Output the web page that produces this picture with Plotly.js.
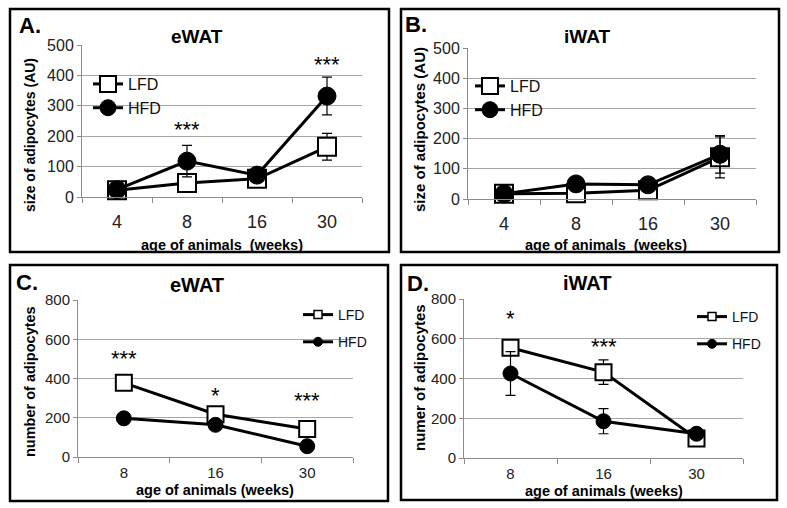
<!DOCTYPE html>
<html>
<head>
<meta charset="utf-8">
<script src="https://cdn.plot.ly/plotly-3.0.1.min.js"></script>
<style>
  html, body { margin: 0; padding: 0; background: #fff; }
  #chart { width: 787px; height: 508px; }
</style>
</head>
<body>
<div id="chart"></div>
<script>
// A / B: size of adipocytes (AU) by age
const AGES_SIZE = ['4', '8', '16', '30'];
const EWAT_SIZE_LFD = [22, 46, 60, 165];
const EWAT_SIZE_LFD_ERR = [4, 19, 8, 44];
const EWAT_SIZE_HFD = [24, 118, 72, 332];
const EWAT_SIZE_HFD_ERR = [4, 52, 10, 62];
const IWAT_SIZE_LFD = [17, 19, 29, 138];
const IWAT_SIZE_LFD_ERR = [3, 8, 8, 68];
const IWAT_SIZE_HFD = [17, 50, 47, 148];
const IWAT_SIZE_HFD_ERR = [3, 8, 8, 62];

// C / D: number of adipocytes by age
const AGES_NUMBER = ['8', '16', '30'];
const EWAT_NUM_LFD = [378, 218, 143];
const EWAT_NUM_LFD_ERR = [35, 20, 10];
const EWAT_NUM_HFD = [197, 164, 55];
const EWAT_NUM_HFD_ERR = [10, 15, 10];
const IWAT_NUM_LFD = [555, 432, 98];
const IWAT_NUM_LFD_ERR = [25, 62, 10];
const IWAT_NUM_HFD = [425, 185, 122];
const IWAT_NUM_HFD_ERR = [110, 63, 10];

// significance marks: [age, height, label]
const EWAT_SIZE_STARS = [['8', 222, '***'], ['30', 435, '***']];
const EWAT_NUM_STARS = [['8', 500, '***'], ['16', 313, '*'], ['30', 288, '***']];
const IWAT_NUM_STARS = [['8', 703, '*'], ['16', 560, '***']];

const W = 787;
const H = 508;
const FONT = 'Liberation Sans, Arial, sans-serif';
const GRID = '#a6a6a6';
const AXIS = '#8c8c8c';

const px = (x) => x / W;
const py = (y) => 1 - y / H;

function errBar(values) {
  return { type: 'data', array: values, visible: true, color: '#000', thickness: 1.2, width: 5 };
}

function series(ages, values, errors, name, axes, opts) {
  return {
    x: ages,
    y: values,
    name,
    type: 'scatter',
    mode: 'lines+markers',
    xaxis: axes[0],
    yaxis: axes[1],
    cliponaxis: false,
    showlegend: opts.showlegend,
    legend: opts.legend,
    legendgroup: opts.group,
    line: { color: '#000', width: 3 },
    marker: opts.marker,
    error_y: errBar(errors),
  };
}

function legendOnly(name, legend, group, marker) {
  return {
    x: [null], y: [null], name, type: 'scatter', mode: 'lines+markers',
    xaxis: 'x3', yaxis: 'y3', legend, legendgroup: group, hoverinfo: 'skip',
    line: { color: '#000', width: 3 }, marker,
  };
}

const LFD_BIG = { symbol: 'square', size: 18, color: '#fff', line: { color: '#000', width: 2 } };
const HFD_BIG = { symbol: 'circle', size: 18, color: '#000', line: { color: '#000', width: 1 } };
const LFD_MID = { symbol: 'square', size: 16, color: '#fff', line: { color: '#000', width: 2 } };
const HFD_MID = { symbol: 'circle', size: 15, color: '#000', line: { color: '#000', width: 1 } };
const LFD_SMALL = { symbol: 'square', size: 8, color: '#fff', line: { color: '#000', width: 1.5 } };
const HFD_SMALL = { symbol: 'circle', size: 9, color: '#000', line: { color: '#000', width: 1 } };

const traces = [
  series(AGES_SIZE, EWAT_SIZE_LFD, EWAT_SIZE_LFD_ERR, 'LFD', ['x', 'y'], { showlegend: true, legend: 'legend', group: 'a-lfd', marker: LFD_BIG }),
  series(AGES_SIZE, EWAT_SIZE_HFD, EWAT_SIZE_HFD_ERR, 'HFD', ['x', 'y'], { showlegend: true, legend: 'legend', group: 'a-hfd', marker: HFD_BIG }),
  series(AGES_SIZE, IWAT_SIZE_LFD, IWAT_SIZE_LFD_ERR, 'LFD', ['x2', 'y2'], { showlegend: true, legend: 'legend2', group: 'b-lfd', marker: LFD_BIG }),
  series(AGES_SIZE, IWAT_SIZE_HFD, IWAT_SIZE_HFD_ERR, 'HFD', ['x2', 'y2'], { showlegend: true, legend: 'legend2', group: 'b-hfd', marker: HFD_BIG }),
  series(AGES_NUMBER, EWAT_NUM_LFD, EWAT_NUM_LFD_ERR, 'LFD', ['x3', 'y3'], { showlegend: false, marker: LFD_MID }),
  series(AGES_NUMBER, EWAT_NUM_HFD, EWAT_NUM_HFD_ERR, 'HFD', ['x3', 'y3'], { showlegend: false, marker: HFD_MID }),
  series(AGES_NUMBER, IWAT_NUM_LFD, IWAT_NUM_LFD_ERR, 'LFD', ['x4', 'y4'], { showlegend: false, marker: LFD_MID }),
  series(AGES_NUMBER, IWAT_NUM_HFD, IWAT_NUM_HFD_ERR, 'HFD', ['x4', 'y4'], { showlegend: false, marker: HFD_MID }),
  legendOnly('LFD', 'legend3', 'c-lfd', LFD_SMALL),
  legendOnly('HFD', 'legend3', 'c-hfd', HFD_SMALL),
  legendOnly('LFD', 'legend4', 'd-lfd', LFD_SMALL),
  legendOnly('HFD', 'legend4', 'd-hfd', HFD_SMALL),
];

function xAxis(domain, anchor, cats, size, standoff) {
  return {
    domain, anchor, type: 'category', categoryorder: 'array', categoryarray: cats,
    range: [-0.5, cats.length - 0.5], tickson: 'boundaries', ticks: 'outside', ticklen: 5,
    tickcolor: AXIS, showline: true, linecolor: AXIS, linewidth: 1, showgrid: false,
    ticklabelstandoff: standoff,
    tickfont: { family: FONT, size, color: '#222' }, fixedrange: true,
  };
}

function yAxis(domain, anchor, max, dtick, size) {
  return {
    domain, anchor, range: [0, max], dtick, ticks: 'outside', ticklen: 4, tickcolor: AXIS,
    showline: true, linecolor: AXIS, linewidth: 1, showgrid: true, gridcolor: GRID, gridwidth: 1,
    zeroline: false, tickfont: { family: FONT, size, color: '#222' }, fixedrange: true,
  };
}

function legendBox(x, y, size, gap) {
  return {
    x, y, xanchor: 'left', yanchor: 'top', bgcolor: 'rgba(0,0,0,0)', borderwidth: 0,
    font: { family: FONT, size, color: '#111' }, tracegroupgap: gap, traceorder: 'grouped',
  };
}

function text(x, y, s, size, opts = {}) {
  return {
    xref: 'paper', yref: 'paper', x: px(x), y: py(y), text: s, showarrow: false,
    xanchor: 'center', yanchor: 'middle', textangle: opts.angle || 0,
    font: { family: FONT, size, color: '#000', weight: opts.weight || 'bold' },
  };
}

function stars(list, cats, xref, yref) {
  return list.map(([age, y, s]) => ({
    xref, yref, x: cats.indexOf(age), y, text: s, showarrow: false,
    xanchor: 'center', yanchor: 'middle',
    font: { family: FONT, size: 22, color: '#000' },
  }));
}

const annotations = [
  text(30, 25, 'A.', 22), text(197, 37, 'eWAT', 19),
  text(30, 135, 'size of adipocytes (AU)', 14, { angle: -90 }), text(222, 245, 'age of animals  (weeks)', 14.5),
  text(416, 24, 'B.', 22), text(587, 37, 'iWAT', 19),
  text(419, 130, 'size of adipocytes (AU)', 15, { angle: -90 }), text(606, 245, 'age of animals  (weeks)', 14.5),
  text(27, 282, 'C.', 22), text(197, 285, 'eWAT', 20),
  text(30, 382, 'number of adipocytes', 14.5, { angle: -90 }), text(215, 490, 'age of animals (weeks)', 14.5),
  text(418, 283, 'D.', 22), text(587, 283, 'iWAT', 20),
  text(419, 378, 'numer of adipocytes', 15, { angle: -90 }), text(604, 491, 'age of animals (weeks)', 14.5),
  ...stars(EWAT_SIZE_STARS, AGES_SIZE, 'x', 'y'),
  ...stars(EWAT_NUM_STARS, AGES_NUMBER, 'x3', 'y3'),
  ...stars(IWAT_NUM_STARS, AGES_NUMBER, 'x4', 'y4'),
];

function frame(x0, y0, x1, y1) {
  return { type: 'rect', xref: 'paper', yref: 'paper', x0: px(x0), x1: px(x1), y0: py(y0), y1: py(y1), line: { color: '#000', width: 2.5 } };
}

const layout = {
  width: W, height: H,
  margin: { l: 0, r: 0, t: 0, b: 0 },
  paper_bgcolor: '#fff', plot_bgcolor: '#fff',
  font: { family: FONT, color: '#000' },
  xaxis: xAxis([px(82), px(362)], 'y', AGES_SIZE, 18, 8),
  yaxis: yAxis([py(197), py(45)], 'x', 500, 100, 16),
  xaxis2: xAxis([px(468), px(756)], 'y2', AGES_SIZE, 18, 8),
  yaxis2: yAxis([py(199), py(48)], 'x2', 500, 100, 16),
  xaxis3: xAxis([px(78), px(353)], 'y3', AGES_NUMBER, 15, 2),
  yaxis3: yAxis([py(457), py(300)], 'x3', 800, 200, 15),
  xaxis4: xAxis([px(464), px(743)], 'y4', AGES_NUMBER, 15, 2),
  yaxis4: yAxis([py(458), py(299)], 'x4', 800, 200, 15),
  legend: legendBox(px(88), py(67), 16, 0),
  legend2: legendBox(px(470), py(69), 16, 0),
  legend3: legendBox(px(298), py(299), 14, 6),
  legend4: legendBox(px(692), py(301), 14, 6),
  annotations,
  shapes: [
    frame(10, 9, 389, 252),
    frame(401, 9, 779, 252),
    frame(10, 265, 388, 501),
    frame(401, 265, 777, 500),
  ],
};

Plotly.newPlot('chart', traces, layout, { staticPlot: true, displayModeBar: false });
</script>
</body>
</html>
